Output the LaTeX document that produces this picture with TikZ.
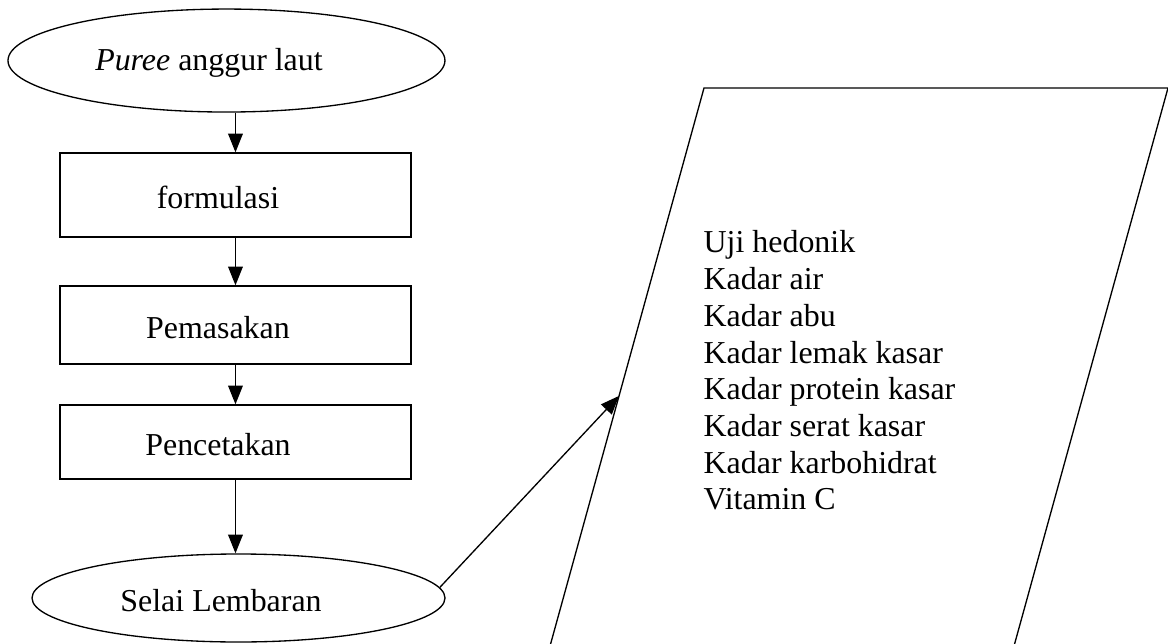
\documentclass[tikz,border=0pt]{standalone}
\usepackage{fontspec}
\setmainfont{Liberation Serif}
\usetikzlibrary{shapes.geometric,arrows.meta}

\tikzset{
  proc/.style={draw, minimum width=4.639cm, inner sep=0pt},
  term/.style={draw, ellipse, inner sep=0pt},
  txt/.style={label={[anchor=base,xshift=-0.231cm,yshift=-0.033cm]center:#1}}
}

\begin{document}
\begin{tikzpicture}[>={Triangle[length=7pt,width=5.5pt]}, font=\fontsize{12}{13.8}\selectfont, line width=0.5pt]
\useasboundingbox (0,0) rectangle (15.436,-8.498);
\node[term, minimum width=5.775cm, minimum height=1.361cm, txt={\emph{Puree} anggur laut}] (puree) at (2.993,-0.800) {};
\node[proc, minimum height=1.110cm, txt={formulasi}] (form) at (3.112,-2.577) {};
\node[proc, minimum height=1.031cm, txt={Pemasakan}] (masak) at (3.112,-4.295) {};
\node[proc, minimum height=0.978cm, txt={Pencetakan}] (cetak) at (3.112,-5.841) {};
\node[term, minimum width=5.458cm, minimum height=1.163cm, txt={Selai Lembaran}] (selai) at (3.152,-7.903) {};
\coordinate (dtl) at (9.304,-1.163);
\coordinate (dtr) at (15.436,-1.163);
\coordinate (dbr) at (13.372,-8.643);
\coordinate (dbl) at (7.240,-8.643);
\draw (dtl) -- (dtr) -- (dbr) -- (dbl) -- cycle;
\path (dtl) -- (dbl) coordinate[pos=0.544] (din);
\node[anchor=north west, inner sep=0pt, align=left] (uji) at (9.291,-3.042) {Uji hedonik\\Kadar air\\Kadar abu\\Kadar lemak kasar\\Kadar protein kasar\\Kadar serat kasar\\Kadar karbohidrat\\Vitamin C};
\draw [->] (puree.south -| form.north) -- (form.north);
\draw [->] (form.south) -- (masak.north);
\draw [->] (masak.south) -- (cetak.north);
\draw [->] (cetak.south) -- (cetak.south |- selai.north);
\draw [->] (selai.3) -- (din);
\end{tikzpicture}
\end{document}
